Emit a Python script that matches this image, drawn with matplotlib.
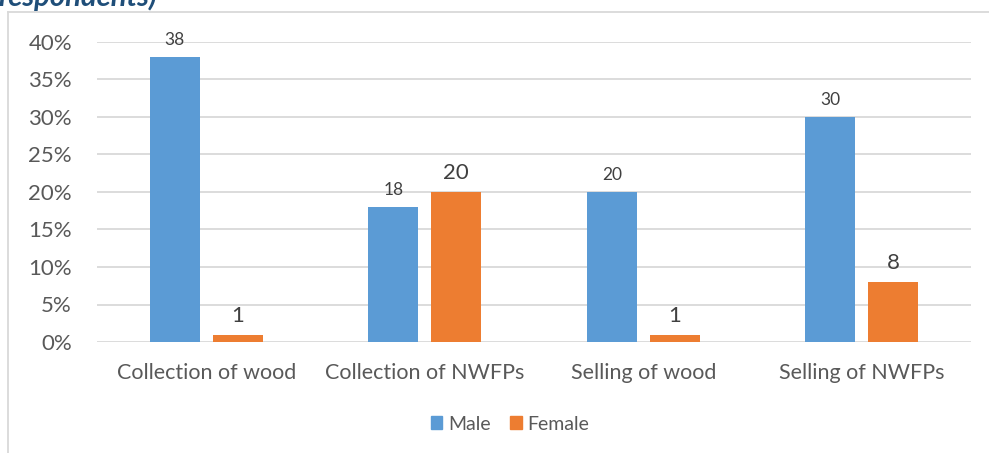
import matplotlib
matplotlib.use("Agg")
import matplotlib.pyplot as plt
import numpy as np
from matplotlib.ticker import FuncFormatter
from matplotlib.patches import Rectangle
from matplotlib.lines import Line2D

categories = ["Collection of wood", "Collection of NWFPs", "Selling of wood", "Selling of NWFPs"]
male = [38, 18, 20, 30]
female = [1, 20, 1, 8]
yticks = [0, 5, 10, 15, 20, 25, 30, 35, 40]

plt.rcParams['font.family'] = ['Lato', 'DejaVu Sans']
gray = '#595959'
blue = '#5B9BD5'
orange = '#ED7D31'

fig = plt.figure(figsize=(9.89, 4.53), dpi=100)
ax = fig.add_axes([97/989, 1-342/453, (971-97)/989, 300/453])

x = np.arange(len(categories))
w = 0.229
off = 0.144
ax.bar(x - off, male, w, color=blue, zorder=3, label='Male')
ax.bar(x + off, female, w, color=orange, zorder=3, label='Female')

for xi, v in zip(x, male):
    ax.text(xi - off, v + 1.2, str(v), ha='center', va='bottom', fontsize=12.5, color='#404040')
for xi, v in zip(x, female):
    ax.text(xi + off, v + 1.2, str(v), ha='center', va='bottom', fontsize=16, color='#404040')

ax.set_xlim(-0.5, 3.5)
ax.set_ylim(0, 40)
ax.set_yticks(yticks)
ax.yaxis.set_major_formatter(FuncFormatter(lambda v, p: f"{int(v)}%"))
ax.grid(axis='y', color='#D9D9D9', linewidth=1.3, zorder=0)
for s in ax.spines.values():
    s.set_visible(False)
ax.tick_params(axis='both', length=0, labelcolor=gray)
ax.tick_params(axis='y', pad=18, labelsize=16)
ax.tick_params(axis='x', pad=15, labelsize=15.5)
ax.set_xticks(x)
ax.set_xticklabels(categories)

handles = [Rectangle((0, 0), 1, 1, color=blue), Rectangle((0, 0), 1, 1, color=orange)]
fig.legend(handles, ['Male', 'Female'], loc='center', bbox_to_anchor=(510/989, 1-424/453),
           ncol=2, frameon=False, fontsize=14, labelcolor=gray, handlelength=0.6,
           handleheight=0.6, handletextpad=0.3, columnspacing=1.0)

# chart border (top and left)
fig.add_artist(Line2D([8/989, 1], [1-12/453, 1-12/453], color='#D9D9D9', lw=1.3, transform=fig.transFigure))
fig.add_artist(Line2D([8/989, 8/989], [0, 1-12/453], color='#D9D9D9', lw=1.3, transform=fig.transFigure))

fig.text(-0.002, 1-6/453, "respondents)", fontsize=21, style='italic', fontweight='bold',
         color='#1F4E79', ha='left', va='baseline')

fig.savefig("out.png", dpi=100)
